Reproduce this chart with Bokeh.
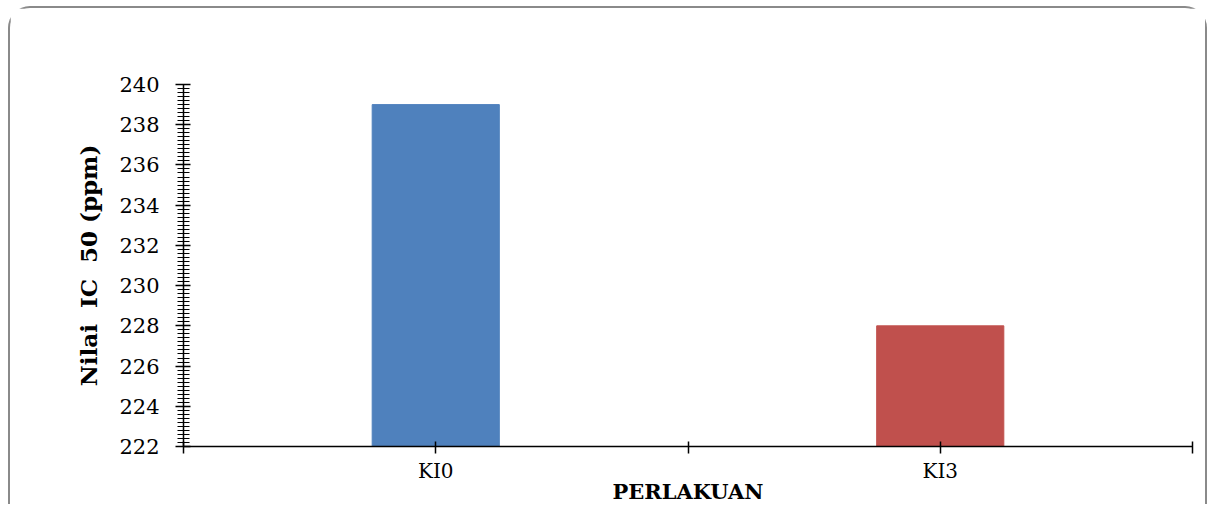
from bokeh.plotting import figure
from bokeh.models import FixedTicker, ColumnDataSource
from bokeh.embed import file_html
from bokeh.resources import INLINE

categories = ["KI0", "KI3"]
ic50_values = [239, 228]
bar_colors = ["#4F81BD", "#C0504D"]
y_ticks = [222, 224, 226, 228, 230, 232, 234, 236, 238, 240]

x_pos = [i + 0.5 for i in range(len(categories))]
src = ColumnDataSource(dict(x=x_pos, top=ic50_values, color=bar_colors, cat=categories))

FONT = "DejaVu Serif"

p = figure(width=1199, height=498, output_backend="svg", toolbar_location=None,
           x_range=(0, len(categories)), y_range=(y_ticks[0], y_ticks[-1]),
           min_border_left=173, min_border_right=17, min_border_top=76, min_border_bottom=60)
p.styles = {"margin-left": "8px", "margin-top": "6px",
            "border-top": "2px solid #8a8a8a", "border-left": "2px solid #8a8a8a",
            "border-right": "2px solid #8a8a8a",
            "border-top-left-radius": "22px", "border-top-right-radius": "22px"}
p.outline_line_color = None
p.background_fill_color = "white"
p.border_fill_color = "white"
p.xgrid.visible = False
p.ygrid.visible = False

p.vbar(x="x", top="top", bottom=y_ticks[0], width=0.252, color="color", source=src)

# x axis
ticks_x = [0, 0.5, 1, 1.5, 2]
p.xaxis.ticker = FixedTicker(ticks=ticks_x)
overrides = {0: "", 1: "", 2: ""}
for xp, c in zip(x_pos, categories):
    overrides[xp] = c
p.xaxis.major_label_overrides = overrides
p.xaxis.axis_line_color = "black"
p.xaxis.axis_line_width = 1.5
p.xaxis.major_tick_line_color = "black"
p.xaxis.major_tick_line_width = 1.5
p.xaxis.major_tick_in = 5
p.xaxis.major_tick_out = 7
p.xaxis.minor_tick_line_color = None
p.xaxis.major_label_text_font = FONT
p.xaxis.major_label_text_font_size = "20px"
p.xaxis.major_label_text_color = "black"
p.xaxis.major_label_standoff = 5
p.xaxis.axis_label = "PERLAKUAN"
p.xaxis.axis_label_text_font = FONT
p.xaxis.axis_label_text_font_style = "bold"
p.xaxis.axis_label_text_font_size = "21px"
p.xaxis.axis_label_text_color = "black"
p.xaxis.axis_label_standoff = -7

# y axis
p.yaxis.ticker = FixedTicker(ticks=y_ticks,
                             minor_ticks=[y_ticks[0] + 0.2 * k for k in range(int((y_ticks[-1] - y_ticks[0]) / 0.2) + 1)])
p.yaxis.axis_line_color = "black"
p.yaxis.axis_line_width = 1.5
p.yaxis.major_tick_line_color = "black"
p.yaxis.major_tick_line_width = 1.5
p.yaxis.major_tick_in = 7
p.yaxis.major_tick_out = 8
p.yaxis.minor_tick_line_color = "black"
p.yaxis.minor_tick_line_width = 1.2
p.yaxis.minor_tick_in = 6
p.yaxis.minor_tick_out = 6
p.yaxis.major_label_text_font = FONT
p.yaxis.major_label_text_font_size = "21px"
p.yaxis.major_label_text_color = "black"
p.yaxis.major_label_standoff = 16
p.yaxis.axis_label = "Nilai\u00a0\u00a0IC\u00a0\u00a050 (ppm)"
p.yaxis.axis_label_text_font = FONT
p.yaxis.axis_label_text_font_style = "bold"
p.yaxis.axis_label_text_font_size = "23px"
p.yaxis.axis_label_text_color = "black"
p.yaxis.axis_label_standoff = 14

open("out.html", "w").write(file_html(p, INLINE))
